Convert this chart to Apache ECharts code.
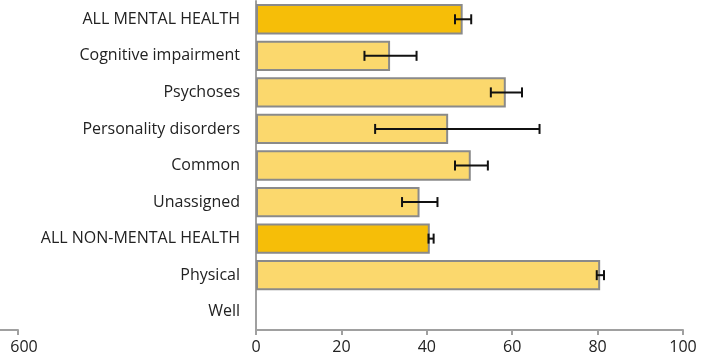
<!DOCTYPE html>
<html>
<head>
<meta charset="utf-8">
<script src="https://cdn.jsdelivr.net/npm/echarts@6/dist/echarts.min.js"></script>
<style>
  html, body { margin: 0; padding: 0; background: #fff; }
  #chart { width: 712px; height: 361px; }
</style>
</head>
<body>
<div id="chart"></div>
<script>
// categories, top to bottom
const categories = [
  'ALL MENTAL HEALTH', 'Cognitive impairment', 'Psychoses', 'Personality disorders',
  'Common', 'Unassigned', 'ALL NON-MENTAL HEALTH', 'Physical', 'Well'
]
const values = [48.4, 31.4, 58.5, 45.0, 50.3, 38.3, 40.7, 80.6, 0]
const errLow = [46.6, 25.4, 55.0, 27.9, 46.6, 34.2, 40.4, 79.8, null]
const errHigh = [50.4, 37.6, 62.3, 66.4, 54.3, 42.5, 41.6, 81.5, null]
const isTotal = [true, false, false, false, false, false, true, false, false]
const xTicks = [0, 20, 40, 60, 80, 100]
// stray axis fragment at the far left
const leftAxisTicks = [500, 600]

const chart = echarts.init(document.getElementById('chart'))

const axisGray = '#a0a0a0'
const font = '"Open Sans", sans-serif'

const option = {
  animation: false,
  grid: [
    { left: 256, right: 29, top: 1, bottom: 31, outerBoundsMode: 'none' },
    { left: -82, width: 100, top: 1, bottom: 31, outerBoundsMode: 'none' }
  ],
  xAxis: [
    {
      gridIndex: 0,
      type: 'value',
      min: xTicks[0],
      max: xTicks[xTicks.length - 1],
      interval: 20,
      splitLine: { show: false },
      axisLine: { show: true, lineStyle: { color: axisGray, width: 2 } },
      axisTick: { show: true, length: 5, lineStyle: { color: axisGray, width: 2 } },
      axisLabel: { color: '#222', fontSize: 16, fontFamily: font, margin: 9 }
    },
    {
      gridIndex: 1,
      type: 'value',
      min: leftAxisTicks[0],
      max: leftAxisTicks[1],
      interval: 100,
      splitLine: { show: false },
      axisLine: { show: true, lineStyle: { color: axisGray, width: 2 } },
      axisTick: { show: true, length: 5, lineStyle: { color: axisGray, width: 2 } },
      axisLabel: {
        color: '#222', fontSize: 16, fontFamily: font, margin: 9,
        formatter: v => (v === leftAxisTicks[1] ? String(v) : ''),
        padding: [0, 0, 0, 12]
      }
    }
  ],
  yAxis: [
    {
      gridIndex: 0,
      type: 'category',
      data: categories,
      inverse: true,
      axisLine: { show: true, lineStyle: { color: axisGray, width: 2 } },
      axisTick: { show: false },
      axisLabel: { color: '#222', fontSize: 16, fontFamily: font, margin: 16 }
    },
    {
      gridIndex: 1,
      type: 'value',
      show: false
    }
  ],
  series: [
    {
      type: 'bar',
      xAxisIndex: 0,
      yAxisIndex: 0,
      barCategoryGap: '17%',
      data: values.map((v, i) => ({
        value: v,
        itemStyle: {
          color: isTotal[i] ? '#f6be08' : '#fbd86d',
          borderColor: v ? '#8a8a8a' : 'transparent',
          borderWidth: 2
        }
      }))
    },
    {
      type: 'custom',
      xAxisIndex: 0,
      yAxisIndex: 0,
      data: categories.map((c, i) => [i, errLow[i], errHigh[i]]),
      renderItem: (params, api) => {
        if (api.value(1) == null || isNaN(api.value(1))) return
        const idx = api.value(0)
        const lo = api.coord([api.value(1), idx])
        const hi = api.coord([api.value(2), idx])
        const cap = 5
        const style = { stroke: '#111', lineWidth: 2 }
        return {
          type: 'group',
          children: [
            { type: 'line', shape: { x1: lo[0], y1: lo[1], x2: hi[0], y2: hi[1] }, style },
            { type: 'line', shape: { x1: lo[0], y1: lo[1] - cap, x2: lo[0], y2: lo[1] + cap }, style },
            { type: 'line', shape: { x1: hi[0], y1: hi[1] - cap, x2: hi[0], y2: hi[1] + cap }, style }
          ]
        }
      },
      z: 5
    }
  ]
}

chart.setOption(option)
</script>
</body>
</html>
